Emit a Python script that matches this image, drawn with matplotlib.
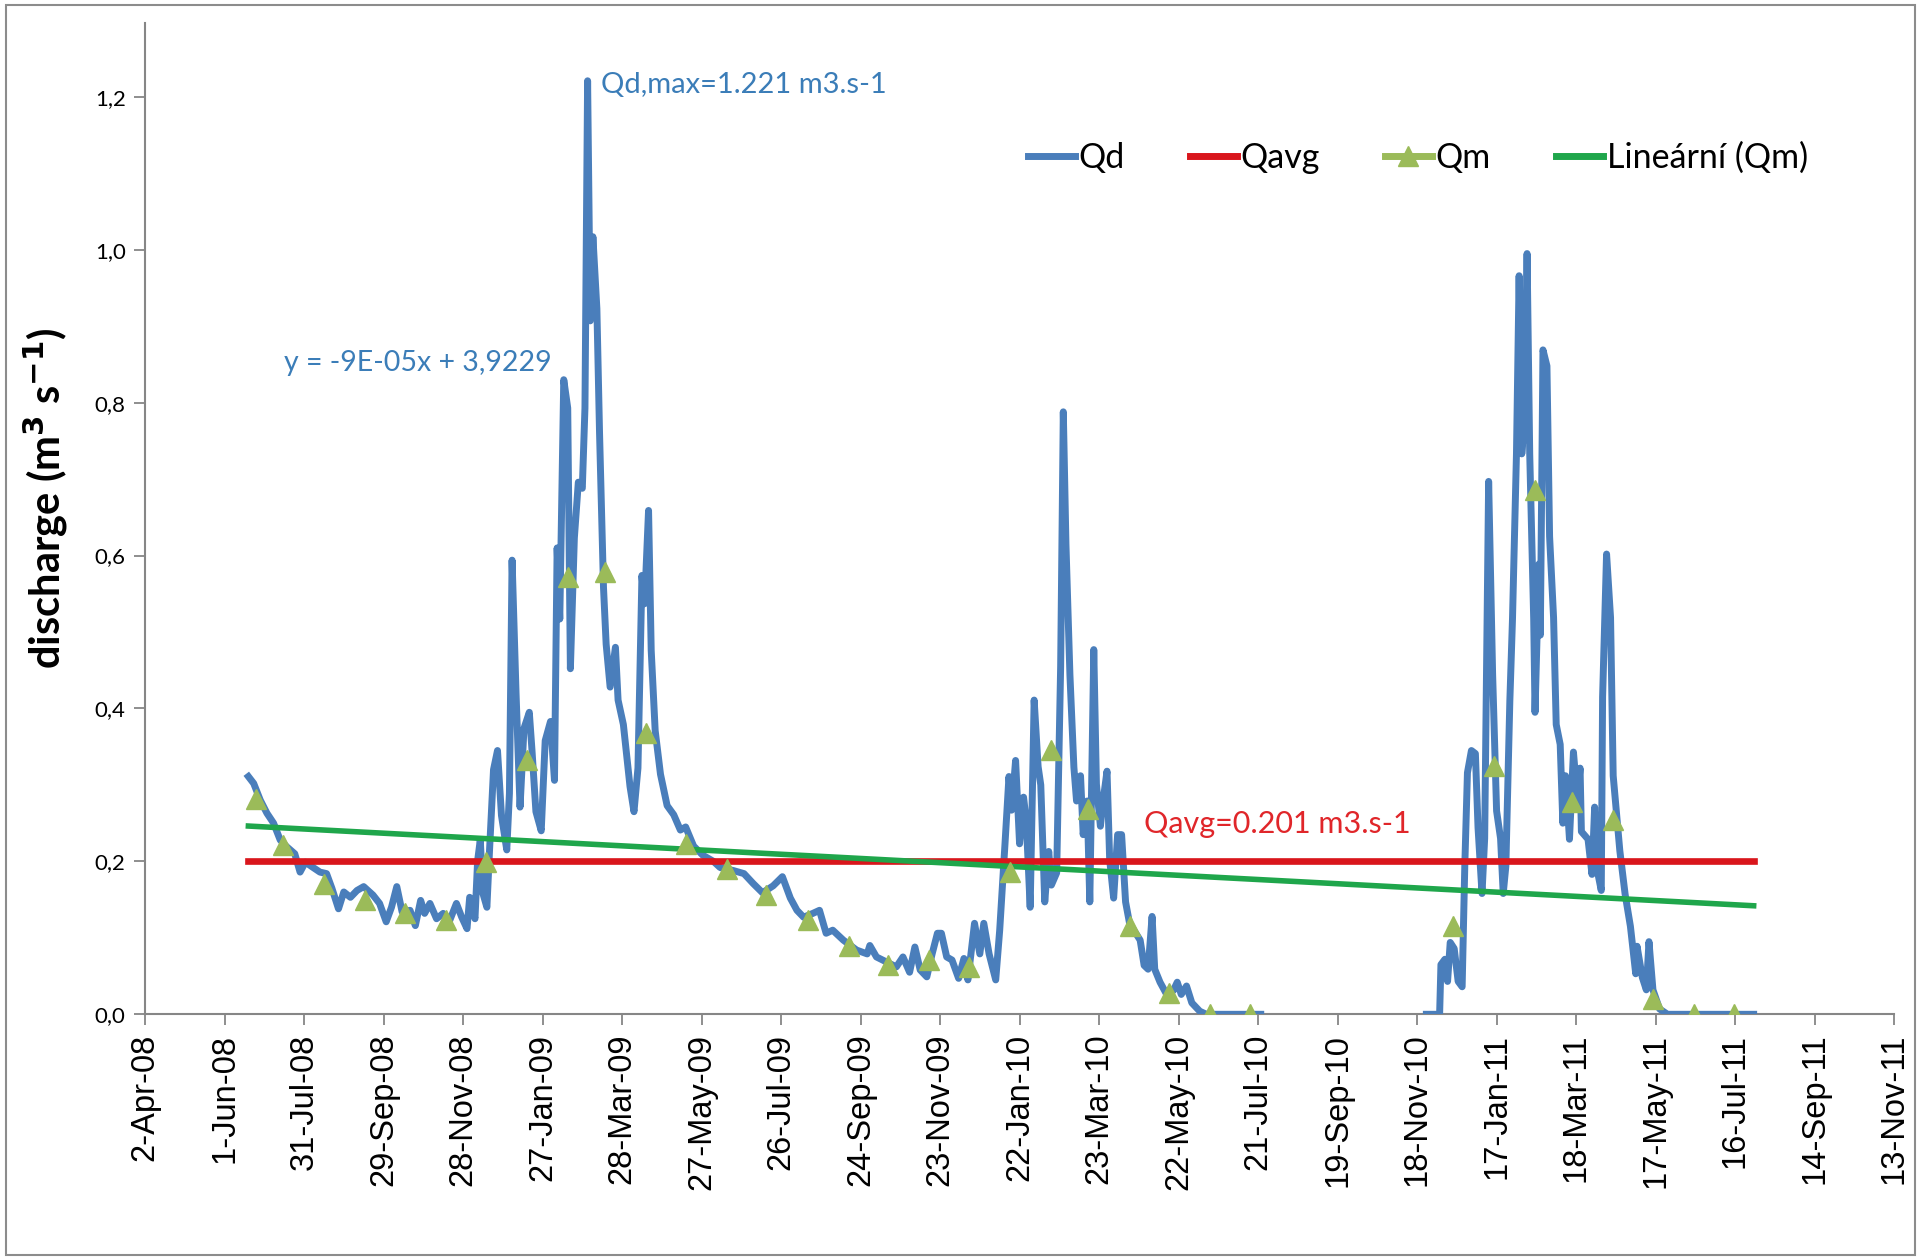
import numpy as np
import pandas as pd
import matplotlib
matplotlib.use("Agg")
import matplotlib.pyplot as plt
import matplotlib.dates as mdates
from matplotlib.lines import Line2D
from matplotlib.patches import Rectangle

# daily discharge Qd, Excel date serials (days since 1899-12-30), two segments (gap Aug-Nov 2010)
qd1_serial = [39618, 39622, 39627, 39632, 39637, 39642, 39647, 39653, 39657, 39661, 39666, 39672,
              39677, 39681, 39686, 39690, 39695, 39700, 39705, 39712, 39717, 39722, 39726, 39730,
              39734, 39740, 39744, 39748, 39751, 39755, 39760, 39765, 39770, 39775, 39779, 39783,
              39785, 39789, 39791, 39793, 39795, 39798, 39800, 39803, 39806, 39809, 39813, 39815,
              39817, 39820, 39823, 39826, 39830, 39832, 39835, 39839, 39842, 39846, 39849, 39851,
              39853, 39856, 39859, 39861, 39864, 39867, 39870, 39872, 39874, 39876, 39878, 39881,
              39883, 39886, 39888, 39891, 39895, 39897, 39901, 39906, 39909, 39912, 39915, 39917,
              39920, 39922, 39925, 39929, 39934, 39939, 39944, 39948, 39954, 39961, 39969, 39974,
              39984, 39992, 39999, 40006, 40014, 40021, 40027, 40032, 40037, 40044, 40049, 40054,
              40059, 40067, 40077, 40085, 40087, 40092, 40100, 40107, 40112, 40117, 40121, 40125,
              40130, 40134, 40138, 40141, 40145, 40149, 40154, 40158, 40161, 40166, 40170, 40173,
              40177, 40182, 40185, 40189, 40192, 40194, 40197, 40200, 40203, 40205, 40208, 40211,
              40214, 40216, 40219, 40222, 40224, 40228, 40231, 40233, 40235, 40238, 40241, 40243,
              40246, 40248, 40251, 40253, 40256, 40258, 40261, 40263, 40266, 40268, 40271, 40274,
              40277, 40280, 40283, 40287, 40291, 40294, 40297, 40300, 40302, 40306, 40311, 40316,
              40319, 40322, 40326, 40330, 40336, 40341, 40382]
qd1_values = [0.311, 0.302, 0.280, 0.263, 0.250, 0.228, 0.219, 0.210, 0.186, 0.199, 0.193, 0.186,
              0.184, 0.165, 0.138, 0.160, 0.153, 0.162, 0.167, 0.156, 0.145, 0.121, 0.140, 0.167,
              0.134, 0.136, 0.116, 0.149, 0.132, 0.145, 0.125, 0.132, 0.123, 0.145, 0.127, 0.112,
              0.153, 0.125, 0.201, 0.228, 0.158, 0.140, 0.215, 0.320, 0.345, 0.260, 0.215, 0.289,
              0.594, 0.420, 0.271, 0.374, 0.395, 0.346, 0.265, 0.240, 0.358, 0.383, 0.306, 0.610,
              0.517, 0.830, 0.793, 0.452, 0.623, 0.696, 0.688, 0.793, 1.221, 0.907, 1.017, 0.923,
              0.761, 0.558, 0.484, 0.428, 0.480, 0.411, 0.379, 0.298, 0.265, 0.322, 0.574, 0.537,
              0.659, 0.476, 0.371, 0.314, 0.273, 0.261, 0.241, 0.245, 0.220, 0.208, 0.200, 0.192,
              0.188, 0.184, 0.171, 0.159, 0.168, 0.180, 0.152, 0.136, 0.127, 0.132, 0.136, 0.106,
              0.110, 0.097, 0.084, 0.079, 0.090, 0.075, 0.068, 0.062, 0.075, 0.055, 0.088, 0.058,
              0.049, 0.079, 0.106, 0.106, 0.075, 0.071, 0.047, 0.073, 0.045, 0.119, 0.079, 0.119,
              0.079, 0.045, 0.110, 0.223, 0.311, 0.267, 0.332, 0.223, 0.284, 0.254, 0.140, 0.411,
              0.324, 0.300, 0.147, 0.213, 0.169, 0.185, 0.455, 0.788, 0.615, 0.444, 0.323, 0.279,
              0.312, 0.235, 0.279, 0.147, 0.477, 0.301, 0.246, 0.279, 0.318, 0.202, 0.152, 0.235,
              0.235, 0.147, 0.119, 0.108, 0.097, 0.064, 0.059, 0.128, 0.059, 0.042, 0.026, 0.031,
              0.042, 0.026, 0.037, 0.015, 0.004, 0.0, 0.0]

qd2_serial = [40507, 40517, 40518, 40521, 40523, 40525, 40528, 40531, 40534, 40536, 40538, 40541,
              40544, 40546, 40549, 40551, 40554, 40557, 40560, 40563, 40565, 40567, 40570, 40572,
              40575, 40577, 40579, 40581, 40583, 40585, 40588, 40589, 40592, 40593, 40595, 40598,
              40600, 40603, 40605, 40608, 40610, 40612, 40615, 40618, 40621, 40623, 40624, 40629,
              40632, 40634, 40636, 40639, 40640, 40643, 40646, 40648, 40653, 40657, 40661, 40665,
              40666, 40670, 40673, 40675, 40678, 40683, 40689, 40754]
qd2_values = [0.0, 0.0, 0.065, 0.072, 0.043, 0.094, 0.086, 0.043, 0.036, 0.194, 0.316, 0.345,
              0.341, 0.244, 0.158, 0.230, 0.697, 0.445, 0.266, 0.230, 0.158, 0.194, 0.410, 0.517,
              0.733, 0.966, 0.733, 0.776, 0.995, 0.733, 0.517, 0.395, 0.589, 0.496, 0.869, 0.848,
              0.625, 0.519, 0.379, 0.353, 0.250, 0.312, 0.229, 0.343, 0.281, 0.322, 0.239, 0.229,
              0.183, 0.271, 0.188, 0.162, 0.415, 0.602, 0.519, 0.312, 0.214, 0.157, 0.115, 0.053,
              0.089, 0.048, 0.032, 0.095, 0.032, 0.007, 0.0, 0.0]

# monthly means Qm
qm_dates = ["2008-06-25", "2008-07-15", "2008-08-15", "2008-09-15", "2008-10-15", "2008-11-15",
            "2008-12-15", "2009-01-15", "2009-02-15", "2009-03-15", "2009-04-15", "2009-05-15",
            "2009-06-15", "2009-07-15", "2009-08-15", "2009-09-15", "2009-10-15", "2009-11-15",
            "2009-12-15", "2010-01-15", "2010-02-15", "2010-03-15", "2010-04-15", "2010-05-15",
            "2010-06-15", "2010-07-15", "2010-12-15", "2011-01-15", "2011-02-15", "2011-03-15",
            "2011-04-15", "2011-05-15", "2011-06-15", "2011-07-15"]
qm_values = [0.282, 0.221, 0.171, 0.149, 0.132, 0.123, 0.199, 0.332, 0.572, 0.578, 0.368, 0.223,
             0.190, 0.156, 0.123, 0.089, 0.064, 0.071, 0.062, 0.186, 0.346, 0.268, 0.116, 0.028,
             0.0, 0.0, 0.115, 0.325, 0.686, 0.278, 0.254, 0.020, 0.0, 0.0]

q_avg = 0.201
q_max = 1.221

BLUE = "#4A7EBB"
RED = "#D9161C"
OLIVE = "#9BBB59"
GREEN = "#1FA64B"
AXIS_GRAY = "#868686"
CALIBRI_LIKE = ["Lato", "DejaVu Sans"]


def serial_to_date(s):
    return pd.to_datetime(np.asarray(s), unit="D", origin="1899-12-30")


qd1_x = serial_to_date(qd1_serial)
qd2_x = serial_to_date(qd2_serial)
qm_x = pd.to_datetime(qm_dates)

# linear trend of Qm against Excel serial date (as Excel does)
qm_serial = (qm_x - pd.Timestamp("1899-12-30")).days.values
slope, intercept = np.polyfit(qm_serial, qm_values, 1)
trend_serial = np.array([qd1_serial[0], qd2_serial[-1]])
trend_x = serial_to_date(trend_serial)
trend_y = slope * trend_serial + intercept

fig = plt.figure(figsize=(19.21, 12.60), dpi=100)
ax = fig.add_axes([0.0755, 0.195, 0.9105, 0.787])

ax.plot(qd1_x, qd1_values, color=BLUE, lw=5, solid_joinstyle="round", zorder=3)
ax.plot(qd2_x, qd2_values, color=BLUE, lw=5, solid_joinstyle="round", zorder=3)
ax.plot(trend_x, [q_avg, q_avg], color=RED, lw=4.8, zorder=4)
ax.plot(qm_x, qm_values, ls="none", marker="^", ms=14, color=OLIVE, zorder=5)
ax.plot(trend_x, trend_y, color=GREEN, lw=4, zorder=4)

ax.set_xlim(pd.Timestamp("2008-04-02"), pd.Timestamp("2011-11-13"))
ax.set_ylim(0, 1.297)
ax.set_xticks(pd.date_range("2008-04-02", "2011-11-13", freq="60D"))
ax.xaxis.set_major_formatter(mdates.DateFormatter("%-d-%b-%y"))
ax.set_yticks(np.arange(0, 1.21, 0.2))
ax.set_yticklabels([f"{v:.1f}".replace(".", ",") for v in np.arange(0, 1.21, 0.2)])

for lbl in ax.get_xticklabels():
    lbl.set_rotation(90)
    lbl.set_fontfamily("Liberation Sans")
    lbl.set_fontsize(23.5)
for lbl in ax.get_yticklabels():
    lbl.set_fontfamily(CALIBRI_LIKE)
    lbl.set_fontsize(16)

ax.tick_params(axis="both", direction="out", length=8, width=1.3, color=AXIS_GRAY, pad=6)
for side in ["top", "right"]:
    ax.spines[side].set_visible(False)
for side in ["left", "bottom"]:
    ax.spines[side].set_color(AXIS_GRAY)
    ax.spines[side].set_linewidth(1.5)

ax.set_ylabel("discharge (m$^{\\mathbf{3}}$ s$^{\\mathbf{-1}}$)", fontsize=30, fontweight="bold",
              family=CALIBRI_LIKE)
ax.yaxis.set_label_coords(-0.043, 0.52)

ax.text(pd.Timestamp("2009-03-12"), q_max - 0.005, f"Qd,max={q_max} m3.s-1", color="#3B7DB8",
        fontsize=21, family=CALIBRI_LIKE, va="center", ha="left")
ax.text(pd.Timestamp("2008-07-16"), 0.852, "y = -9E-05x + 3,9229", color="#3B7DB8",
        fontsize=20.5, family=CALIBRI_LIKE, va="center", ha="left")
ax.text(pd.Timestamp("2010-04-26"), 0.249, f"Qavg={q_avg} m3.s-1", color="#E0262A",
        fontsize=22, family=CALIBRI_LIKE, va="center", ha="left")

handles = [
    Line2D([], [], color=BLUE, lw=5),
    Line2D([], [], color=RED, lw=5),
    Line2D([], [], color=OLIVE, lw=5, marker="^", ms=14),
    Line2D([], [], color=GREEN, lw=5),
]
fig.legend(handles, ["Qd", "Qavg", "Qm", "Lineární (Qm)"], loc="center",
           bbox_to_anchor=(0.738, 0.875), ncol=4, frameon=False, handlelength=1.4,
           handletextpad=0.1, columnspacing=1.9, prop={"family": CALIBRI_LIKE, "size": 24.5})

fig.patches.append(Rectangle((0.003, 0.004), 0.994, 0.992, transform=fig.transFigure,
                             fill=False, edgecolor="#8C8C8C", lw=1.5))

fig.savefig("out.png", dpi=100, facecolor="white")
